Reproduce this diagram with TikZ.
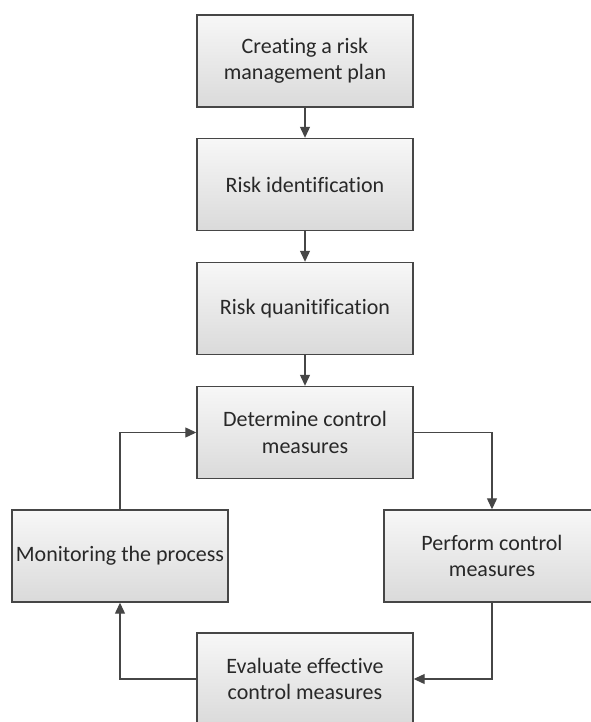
\documentclass[tikz,border=0pt]{standalone}
\usepackage{fontspec}
\setmainfont{Carlito}[Ligatures=NoCommon]
\usetikzlibrary{arrows.meta}

\definecolor{edgegray}{RGB}{70,70,70}
\definecolor{txtgray}{RGB}{40,40,40}
\definecolor{filltop}{RGB}{247,247,247}
\definecolor{fillbot}{RGB}{218,218,218}

\tikzset{
  stepbox/.style={
    rectangle, draw=edgegray, line width=1.4pt,
    top color=filltop, bottom color=fillbot,
    minimum width=216pt, minimum height=92pt,
    inner sep=2pt, align=center, text=txtgray,
    font=\fontsize{22pt}{26.5pt}\selectfont
  },
  flow/.style={
    draw=edgegray, line width=1.2pt,
    -{Triangle[length=11pt,width=10pt]}
  }
}

\begin{document}
\begin{tikzpicture}[x=1pt,y=-1pt]
  \useasboundingbox (0,0) rectangle (590,722);

  % main chain
  \node[stepbox] (plan) at (305,61)    {Creating a risk\\management plan};
  \node[stepbox] (ident) at (305,184.5) {Risk identification};
  \node[stepbox] (quant) at (305,308.5) {Risk quanitification};
  \node[stepbox] (det)   at (305,432.5) {Determine control\\measures};

  % control loop
  \node[stepbox] (perf)  at (492,556)   {Perform control\\measures};
  \node[stepbox] (eval)  at (305,679)   {Evaluate effective\\control measures};
  \node[stepbox] (mon)   at (120,556)   {Monitoring the process};

  \draw[flow] (plan) -- (ident);
  \draw[flow] (ident) -- (quant);
  \draw[flow] (quant) -- (det);

  \draw[flow] (det.east) -| (perf.north);
  \draw[flow] (perf.south) |- (eval.east);
  \draw[flow] (eval.west) -| (mon.south);
  \draw[flow] (mon.north) |- (det.west);
\end{tikzpicture}
\end{document}
